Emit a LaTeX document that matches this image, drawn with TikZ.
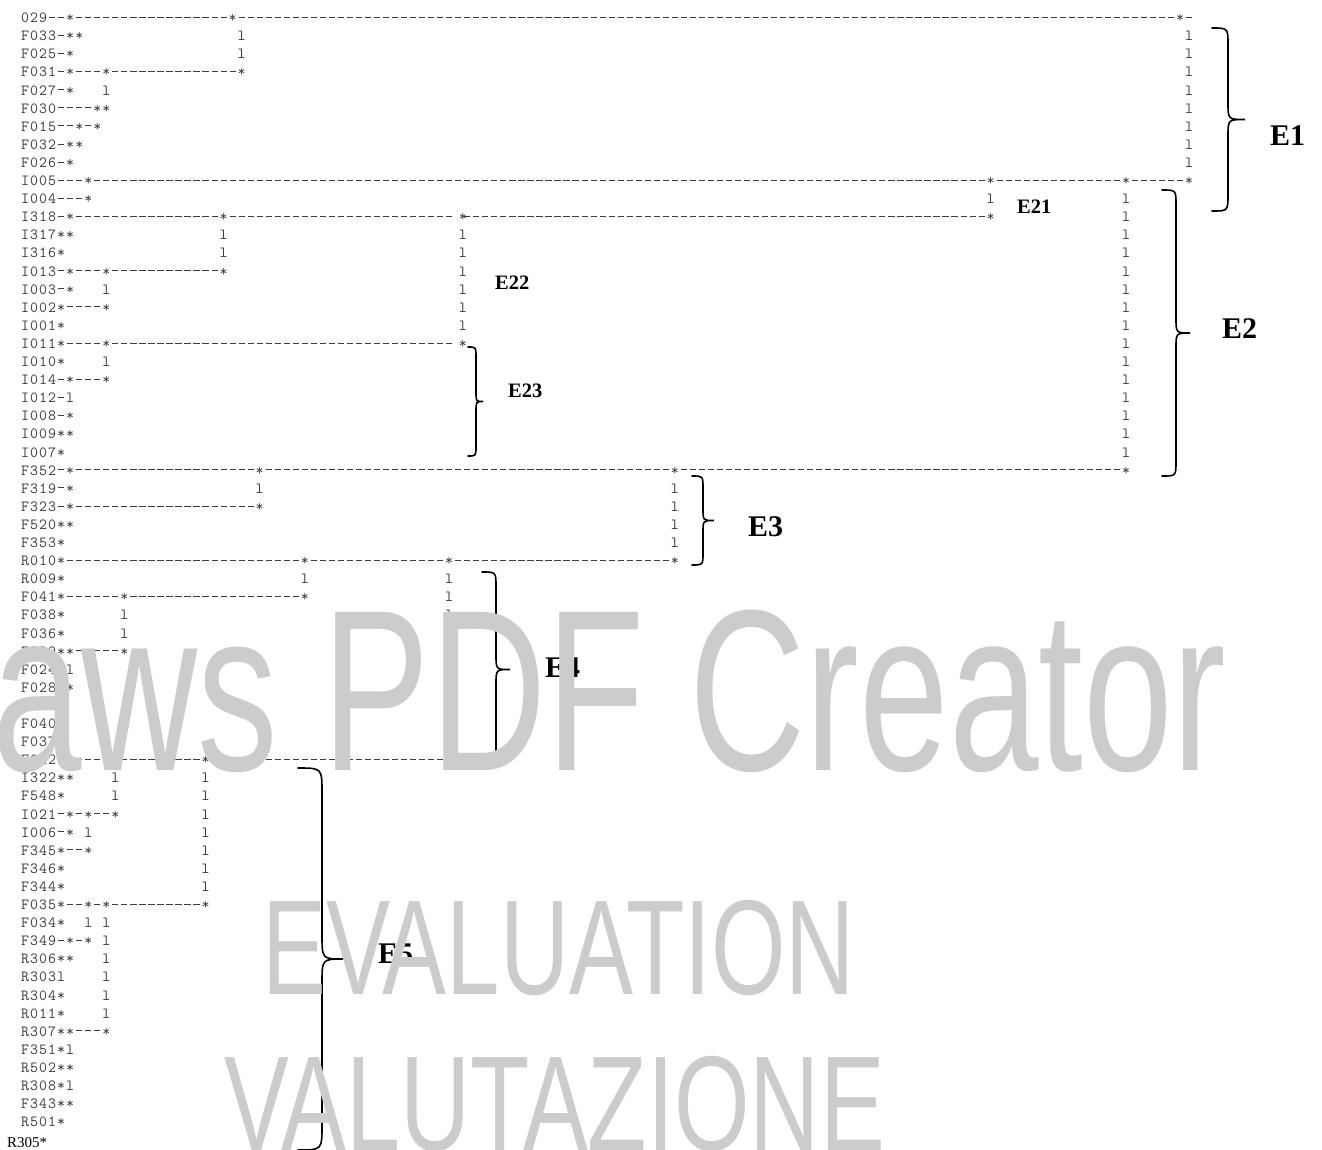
\documentclass[tikz,border=0pt]{standalone}
\usepackage{fontspec}
\newfontfamily\serifb{Liberation Serif}
\newfontfamily\wmfont{Liberation Sans}
\definecolor{wmc}{RGB}{204,204,204}
\definecolor{txt}{RGB}{60,60,60}
\newlength\cw \setlength\cw{9.024pt}
\newcount\curcol
\newcount\tmpcnt
\newcommand\cbox[1]{\makebox[\cw][c]{#1}\global\advance\curcol by 1\relax}
\newcommand\dashc{\makebox[\cw][c]{\rule[5pt]{6.2pt}{0.8pt}}\global\advance\curcol by 1\relax}
\def\labloop#1{\ifx#1\relax\else\ifx#1-\dashc\else\cbox{#1}\fi\expandafter\labloop\fi}
\newcommand\labl[1]{\labloop#1\relax}
\newcommand\putc[2]{\tmpcnt=#1\relax\advance\tmpcnt by -\curcol\relax\ifnum\tmpcnt>0 \hskip\tmpcnt\cw\relax\fi\global\curcol=#1\relax\cbox{#2}}
\newcommand\dashto[2]{\loop\ifnum\curcol<#1 \dashc\repeat\cbox{#2}}
\newcommand\rowN[2]{\node[rowtxt] (r#1) at (20.6,{22.7+18.098*#1}) {\global\curcol=0\relax #2};}
\newcommand\brc[6]{\draw[bracestyle] (#1,#4) .. controls (#2,#4) .. (#2,{#4+#6}) -- (#2,{(#4+#5)/2-#6}) .. controls (#2,{(#4+#5)/2}) .. (#3,{(#4+#5)/2}) .. controls (#2,{(#4+#5)/2}) .. (#2,{(#4+#5)/2+#6}) -- (#2,{#5-#6}) .. controls (#2,#5) .. (#1,#5);}
\tikzset{
  rowtxt/.style={anchor=base west, inner sep=0pt, outer sep=0pt, text=txt, font=\ttfamily\fontsize{15.5}{15.5}\selectfont},
  elab/.style={anchor=base west, inner sep=0pt, font=\serifb\bfseries\fontsize{30}{30}\selectfont},
  elabs/.style={anchor=base west, inner sep=0pt, font=\serifb\bfseries\fontsize{20.5}{20.5}\selectfont},
  bracestyle/.style={line width=1.6pt, line cap=round},
  wmark/.style={anchor=base west, inner sep=0pt, text=wmc, font=\wmfont}
}
\begin{document}
\begin{tikzpicture}[x=1pt,y=-1pt]
\useasboundingbox (0,0) rectangle (1322,1149);
\fill[white] (0,0) rectangle (1322,1149);
% ---- dendrogram rows ----
\rowN{0}{\labl{029--*}\dashto{23}{*}\dashto{128}{*}\dashc}
\rowN{1}{\labl{F033-**}\putc{24}{l}\putc{129}{l}}
\rowN{2}{\labl{F025-*}\putc{24}{l}\putc{129}{l}}
\rowN{3}{\labl{F031-*---*}\dashto{24}{*}\putc{129}{l}}
\rowN{4}{\labl{F027-*}\putc{9}{l}\putc{129}{l}}
\rowN{5}{\labl{F030----**}\putc{129}{l}}
\rowN{6}{\labl{F015--*-*}\putc{129}{l}}
\rowN{7}{\labl{F032-**}\putc{129}{l}}
\rowN{8}{\labl{F026-*}\putc{129}{l}}
\rowN{9}{\labl{I005---*}\dashto{107}{*}\dashto{122}{*}\dashto{129}{*}}
\rowN{10}{\labl{I004---*}\putc{107}{l}\putc{122}{l}}
\rowN{11}{\labl{I318-*}\dashto{22}{*}\dashto{48}{\kern9pt *}\dashto{107}{*}\putc{122}{l}}
\rowN{12}{\labl{I317**}\putc{22}{l}\putc{48}{\kern9pt l}\putc{122}{l}}
\rowN{13}{\labl{I316*}\putc{22}{l}\putc{48}{\kern9pt l}\putc{122}{l}}
\rowN{14}{\labl{I013-*---*}\dashto{22}{*}\putc{48}{\kern9pt l}\putc{122}{l}}
\rowN{15}{\labl{I003-*}\putc{9}{l}\putc{48}{\kern9pt l}\putc{122}{l}}
\rowN{16}{\labl{I002*----*}\putc{48}{\kern9pt l}\putc{122}{l}}
\rowN{17}{\labl{I001*}\putc{48}{\kern9pt l}\putc{122}{l}}
\rowN{18}{\labl{I011*----*}\dashto{48}{\kern9pt *}\putc{122}{l}}
\rowN{19}{\labl{I010*}\putc{9}{l}\putc{122}{l}}
\rowN{20}{\labl{I014-*---*}\putc{122}{l}}
\rowN{21}{\labl{I012-l}\putc{122}{l}}
\rowN{22}{\labl{I008-*}\putc{122}{l}}
\rowN{23}{\labl{I009**}\putc{122}{l}}
\rowN{24}{\labl{I007*}\putc{122}{l}}
\rowN{25}{\labl{F352-*}\dashto{26}{*}\dashto{72}{*}\dashto{122}{*}}
\rowN{26}{\labl{F319-*}\putc{26}{l}\putc{72}{l}}
\rowN{27}{\labl{F323-*}\dashto{26}{*}\putc{72}{l}}
\rowN{28}{\labl{F520**}\putc{72}{l}}
\rowN{29}{\labl{F353*}\putc{72}{l}}
\rowN{30}{\labl{R010*}\dashto{31}{*}\dashto{47}{*}\dashto{72}{*}}
\rowN{31}{\labl{R009*}\putc{31}{l}\putc{47}{l}}
\rowN{32}{\labl{F041*------*}\dashto{31}{*}\putc{47}{l}}
\rowN{33}{\labl{F038*}\putc{11}{l}\putc{47}{l}}
\rowN{34}{\labl{F036*}\putc{11}{l}\putc{47}{l}}
\rowN{35}{\labl{F039**-----*}\putc{47}{l}}
\rowN{36}{\labl{F024-l}\putc{47}{l}}
\rowN{37}{\labl{F028-*}\putc{47}{l}}
\rowN{38}{\labl{F029*}\putc{47}{l}}
\rowN{39}{\labl{F040*}\putc{47}{l}}
\rowN{40}{\labl{F037*}\putc{47}{l}}
\rowN{41}{\labl{F042*}\dashto{20}{*}\dashto{47}{*}}
\rowN{42}{\labl{I322**}\putc{10}{l}\putc{20}{l}}
\rowN{43}{\labl{F548*}\putc{10}{l}\putc{20}{l}}
\rowN{44}{\labl{I021-*-*--*}\putc{20}{l}}
\rowN{45}{\labl{I006-*}\putc{7}{l}\putc{20}{l}}
\rowN{46}{\labl{F345*--*}\putc{20}{l}}
\rowN{47}{\labl{F346*}\putc{20}{l}}
\rowN{48}{\labl{F344*}\putc{20}{l}}
\rowN{49}{\labl{F035*--*-*}\dashto{20}{*}}
\rowN{50}{\labl{F034*}\putc{7}{l}\putc{9}{l}}
\rowN{51}{\labl{F349-*-*}\putc{9}{l}}
\rowN{52}{\labl{R306**}\putc{9}{l}}
\rowN{53}{\labl{R303l}\putc{9}{l}}
\rowN{54}{\labl{R304*}\putc{9}{l}}
\rowN{55}{\labl{R011*}\putc{9}{l}}
\rowN{56}{\labl{R307**---*}}
\rowN{57}{\labl{F351*l}}
\rowN{58}{\labl{R502**}}
\rowN{59}{\labl{R308*l}}
\rowN{60}{\labl{F343**}}
\rowN{61}{\labl{R501*}}
\node[anchor=base west, inner sep=0pt, font=\serifb\fontsize{15}{15}\selectfont] (r62) at (7,1147) {R305*};
% ---- group labels ----
\node[elab] (e1) at (1270,145) {E1};
\node[elab] (e2) at (1222,338) {E2};
\node[elab] (e3) at (748,536) {E3};
\node[elab] (e4) at (545,677) {E4};
\node[elab] (e5) at (378,963) {E5};
\node[elabs] (e21) at (1017,213) {E21};
\node[elabs] (e22) at (495,289) {E22};
\node[elabs] (e23) at (508,397) {E23};
% ---- braces ----
\brc{1212}{1228}{1245}{28}{211}{17}
\brc{1162}{1176}{1190}{190}{476}{15}
\brc{468}{476}{483}{347}{456}{10}
\brc{692}{703}{714}{476}{565}{12}
\brc{482}{496}{510}{572}{767}{15}
\brc{298}{322}{343}{768}{1150}{25}
% ---- watermark ----
\node[wmark, xscale=0.70] (wm1) at (-8,770) {\fontsize{230}{230}\selectfont aws PDF Creator};
\node[wmark, xscale=0.71] (wm2) at (262,994) {\fontsize{135}{135}\selectfont EVALUATION};
\node[wmark, xscale=0.72] (wm3) at (224,1150) {\fontsize{135}{135}\selectfont VALUTAZIONE};
\end{tikzpicture}
\end{document}
